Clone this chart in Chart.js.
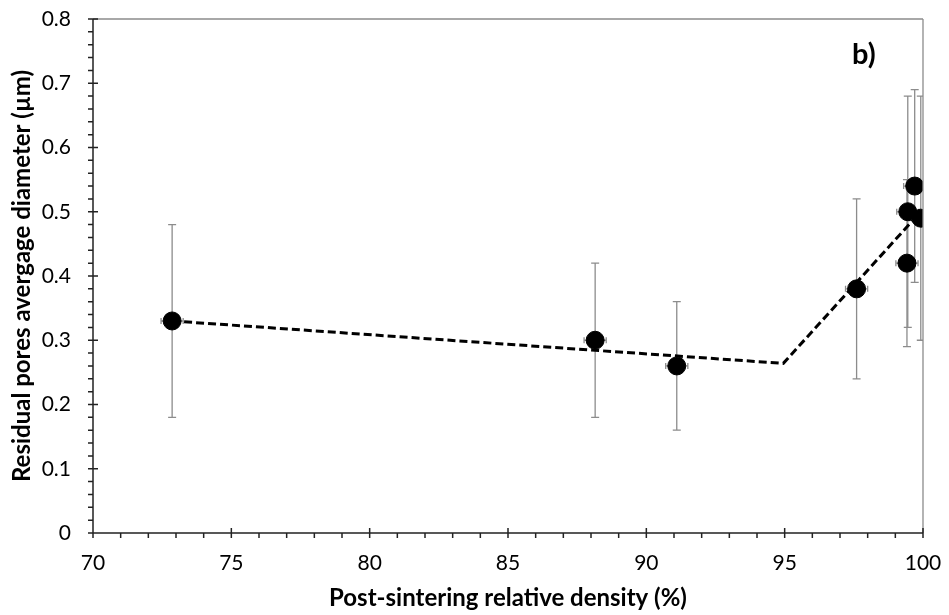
<!DOCTYPE html>
<html>
<head>
<meta charset="UTF-8">
<title>Residual pores vs density</title>
<script src="https://cdn.jsdelivr.net/npm/chart.js"></script>
<style>
  body { margin: 0; background: #fff; }
  canvas { display: block; }
</style>
</head>
<body>
<canvas id="poresChart" width="949" height="615"></canvas>
<script>
  // measured points (density %, pore diameter µm) with error bars
  const densityX = [72.86, 88.15, 91.1, 97.6, 99.42, 99.45, 99.7, 99.92];
  const densityErr = [0.4, 0.4, 0.4, 0.4, 0.4, 0.4, 0.4, 0.4];
  const poreY = [0.33, 0.30, 0.26, 0.38, 0.42, 0.50, 0.54, 0.49];
  const poreErr = [0.15, 0.12, 0.10, 0.14, 0.13, 0.18, 0.15, 0.19];

  // dashed trend line
  const fitX = [72.86, 94.95, 99.62];
  const fitY = [0.33, 0.264, 0.486];

  const xTicks = [70, 75, 80, 85, 90, 95, 100];
  const yTicks = [0, 0.1, 0.2, 0.3, 0.4, 0.5, 0.6, 0.7, 0.8];

  const points = densityX.map((x, i) => ({ x: x, y: poreY[i] }));
  const fitPoints = fitX.map((x, i) => ({ x: x, y: fitY[i] }));

  const errorBars = {
    id: 'errorBars',
    beforeDatasetsDraw(chart) {
      const { ctx, chartArea: a, scales: { x, y } } = chart;
      ctx.save();
      ctx.beginPath();
      ctx.rect(a.left, a.top - 2, a.right - a.left, a.bottom - a.top + 4);
      ctx.clip();
      ctx.strokeStyle = '#8c8c8c';
      ctx.lineWidth = 1.3;
      densityX.forEach((dx, i) => {
        const px = x.getPixelForValue(dx);
        const top = y.getPixelForValue(poreY[i] + poreErr[i]);
        const bot = y.getPixelForValue(poreY[i] - poreErr[i]);
        const py = y.getPixelForValue(poreY[i]);
        const l = x.getPixelForValue(dx - densityErr[i]);
        const r = x.getPixelForValue(dx + densityErr[i]);
        ctx.beginPath();
        ctx.moveTo(px, top); ctx.lineTo(px, bot);
        ctx.moveTo(px - 4, top); ctx.lineTo(px + 4, top);
        ctx.moveTo(px - 4, bot); ctx.lineTo(px + 4, bot);
        ctx.moveTo(l, py); ctx.lineTo(r, py);
        ctx.moveTo(l, py - 3); ctx.lineTo(l, py + 3);
        ctx.moveTo(r, py - 3); ctx.lineTo(r, py + 3);
        ctx.stroke();
      });
      ctx.restore();
    }
  };

  const frameAndTicks = {
    id: 'frameAndTicks',
    afterDraw(chart) {
      const { ctx, chartArea: a, scales: { x, y } } = chart;
      ctx.save();
      // top and right border
      ctx.strokeStyle = '#8c8c8c';
      ctx.lineWidth = 1.3;
      ctx.beginPath();
      ctx.moveTo(a.left, a.top); ctx.lineTo(a.right, a.top);
      ctx.moveTo(a.right, a.top); ctx.lineTo(a.right, a.bottom);
      ctx.stroke();
      // axes
      ctx.strokeStyle = '#222';
      ctx.lineWidth = 1.5;
      ctx.beginPath();
      ctx.moveTo(a.left, a.top); ctx.lineTo(a.left, a.bottom);
      ctx.moveTo(a.left, a.bottom); ctx.lineTo(a.right, a.bottom);
      // x ticks: majors every 5, minors every 1
      for (let v = 70; v <= 100; v++) {
        const px = x.getPixelForValue(v);
        if (v % 5 === 0) { ctx.moveTo(px, a.bottom - 5); ctx.lineTo(px, a.bottom + 5); }
        else { ctx.moveTo(px, a.bottom); ctx.lineTo(px, a.bottom + 5); }
      }
      // y ticks: majors every 0.1, minors every 0.02
      for (let k = 0; k <= 40; k++) {
        const py = y.getPixelForValue(k * 0.02);
        if (k % 5 === 0) { ctx.moveTo(a.left - 5, py); ctx.lineTo(a.left + 5, py); }
        else { ctx.moveTo(a.left - 5, py); ctx.lineTo(a.left, py); }
      }
      ctx.stroke();
      // panel label
      ctx.fillStyle = '#000';
      ctx.font = 'bold 29px Lato';
      ctx.textAlign = 'left';
      ctx.textBaseline = 'middle';
      ctx.fillText('b)', 852, 55);
      ctx.restore();
    }
  };

  new Chart(document.getElementById('poresChart'), {
    type: 'scatter',
    data: {
      datasets: [
        {
          label: 'Measured',
          data: points,
          backgroundColor: '#000',
          borderColor: '#000',
          pointRadius: 9,
          pointHoverRadius: 9,
          order: 0
        },
        {
          label: 'Trend',
          type: 'line',
          data: fitPoints,
          borderColor: '#000',
          borderWidth: 3,
          borderDash: [8, 4],
          pointRadius: 0,
          fill: false,
          order: 1
        }
      ]
    },
    options: {
      responsive: false,
      animation: false,
      layout: { padding: { top: 19, right: 26, left: 0, bottom: 0 } },
      plugins: { legend: { display: false }, tooltip: { enabled: false } },
      scales: {
        x: {
          type: 'linear',
          min: 70,
          max: 100,
          afterBuildTicks: s => { s.ticks = xTicks.map(v => ({ value: v })); },
          grid: { display: false, drawTicks: false },
          border: { display: false },
          ticks: { color: '#000', font: { family: 'Lato', size: 21 }, padding: 18, maxRotation: 0 },
          title: {
            display: true,
            text: 'Post-sintering relative density (%)',
            color: '#000',
            font: { family: 'Lato', size: 24, weight: 'bold' },
            padding: { top: 2, bottom: 2 }
          },
          afterFit: s => { s.height = 615 - 533; s.paddingLeft = 0; s.paddingRight = 0; }
        },
        y: {
          min: 0,
          max: 0.8,
          afterBuildTicks: s => { s.ticks = yTicks.map(v => ({ value: v })); },
          grid: { display: false, drawTicks: false },
          border: { display: false },
          ticks: {
            color: '#000',
            font: { family: 'Lato', size: 21 },
            padding: 22,
            callback: v => v === 0 ? '0' : v.toFixed(1)
          },
          title: {
            display: true,
            text: 'Residual pores avergage diameter (µm)',
            color: '#000',
            font: { family: 'Lato', size: 24, weight: 'bold' },
            padding: { top: 8, bottom: 0 }
          },
          afterFit: s => { s.width = 93; s.paddingTop = 0; s.paddingBottom = 0; }
        }
      }
    },
    plugins: [errorBars, frameAndTicks]
  });
</script>
</body>
</html>
